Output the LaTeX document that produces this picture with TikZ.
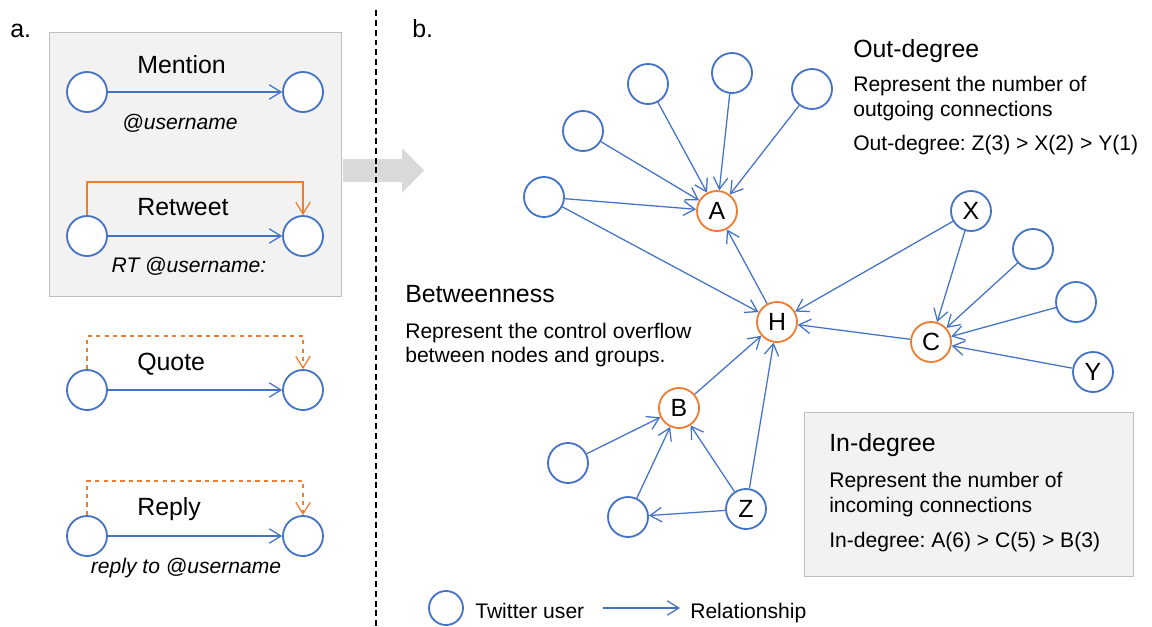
\documentclass[tikz,border=0pt]{standalone}
\usepackage{fontspec}
\setmainfont{Liberation Sans}
\usetikzlibrary{arrows.meta}
\definecolor{userblue}{HTML}{4472C4}
\definecolor{keyorange}{HTML}{ED7D31}
\definecolor{panelgray}{HTML}{F2F2F2}
\definecolor{framegray}{HTML}{BFBFBF}
\definecolor{flowgray}{HTML}{D9D9D9}
\frenchspacing

\tikzset{
    user/.style={circle, draw=userblue, line width=1.3pt, fill=white,
        minimum size=1cm, inner sep=0pt, font=\fontsize{17.7}{20}\selectfont},
    keyuser/.style={user, draw=keyorange},
    rel/.style={draw=userblue, line width=0.9pt,
        -{Straight Barb[length=2.9mm,width=3.6mm]}},
    share/.style={draw=keyorange, line width=0.9pt,
        -{Straight Barb[length=2.9mm,width=3.6mm]}},
    title/.style={anchor=base west, inner sep=0pt, font=\fontsize{17.7}{21}\selectfont},
    body/.style={anchor=base west, inner sep=0pt, font=\fontsize{15}{17.7}\selectfont},
    panel/.style={draw=framegray, fill=panelgray, line width=0.7pt}
}

\begin{document}
\begin{tikzpicture}[x=0.025cm, y=-0.025cm]
    \useasboundingbox (0,0) rectangle (1152,626);

    % Panel a: gray box
    \draw[panel] (49,32) rectangle (341,296);
    \node[title] (labela) at (10,37) {a.};
    \node[title] (labelb) at (412,37) {b.};

    % Mention
    \node[user] (m1) at (87,92) {};
    \node[user] (m2) at (303,92) {};
    \draw[rel] (m1) -- (m2);
    \node[title] (mtext) at (137,73) {Mention};
    \node[body, anchor=base] (mtag) at (180,129) {\itshape @username};

    % Retweet
    \node[user] (rt1) at (87,236) {};
    \node[user] (rt2) at (303,236) {};
    \draw[rel] (rt1) -- (rt2);
    \draw[share] (rt1.north) -- ++(0,-33) -| (rt2.north);
    \node[title] (rttext) at (137,215) {Retweet};
    \node[body, anchor=base] (rttag) at (189,272) {\itshape RT @username:};

    % Quote
    \node[user] (q1) at (87,390) {};
    \node[user] (q2) at (303,390) {};
    \draw[rel] (q1) -- (q2);
    \draw[share, dashed] (q1.north) -- ++(0,-33) -| (q2.north);
    \node[title] (qtext) at (137,370) {Quote};

    % Reply
    \node[user] (r1) at (87,536) {};
    \node[user] (r2) at (303,536) {};
    \draw[rel] (r1) -- (r2);
    \draw[share, dashed] (r1.north) -- ++(0,-34) -| (r2.north);
    \node[title] (rtext) at (137,515) {Reply};
    \node[body, anchor=base] (rtag) at (186,573) {\itshape reply to @username};

    % Gray arrow and divider
    \fill[flowgray] (343,159) -- (402,159) -- (402,148) -- (424,170.5)
        -- (402,193) -- (402,182) -- (343,182) -- cycle;
    \draw[line width=1pt, dash pattern=on 4.2pt off 2.8pt] (376,10) -- (376,626);

    % Panel b: nodes
    \node[keyuser] (A) at (717,211) {A};
    \node[keyuser] (H) at (777,322) {H};
    \node[keyuser] (B) at (679,408) {B};
    \node[keyuser] (C) at (931,342) {C};
    \node[user] (X) at (971,211) {X};
    \node[user] (Y) at (1093,372) {Y};
    \node[user] (Z) at (746,509) {Z};
    \node[user] (a1) at (544,197) {};
    \node[user] (a2) at (583,131) {};
    \node[user] (a3) at (648,84) {};
    \node[user] (a4) at (732,73) {};
    \node[user] (a5) at (812,89) {};
    \node[user] (c1) at (1033,249) {};
    \node[user] (c2) at (1076,302) {};
    \node[user] (b1) at (568,463) {};
    \node[user] (b2) at (628,517) {};

    % Panel b: relationships
    \foreach \s in {a1,a2,a3,a4,a5} {
        \draw[rel] (\s) -- (A);
    }
    \draw[rel] (a1) -- (H);
    \draw[rel] (H) -- (A);
    \draw[rel] (X) -- (H);
    \draw[rel] (X) -- (C);
    \draw[rel] (C) -- (H);
    \foreach \s in {c1,c2,Y} {
        \draw[rel] (\s) -- (C);
    }
    \draw[rel] (B) -- (H);
    \draw[rel] (Z) -- (H);
    \draw[rel] (b1) -- (B);
    \draw[rel] (b2) -- (B);
    \draw[rel] (Z) -- (B);
    \draw[rel] (Z) -- (b2);

    % Out-degree
    \node[title] (outtitle) at (853,57) {Out-degree};
    \node[body] (outline1) at (853,91) {Represent the number of};
    \node[body] (outline2) at (853,116) {outgoing connections};
    \node[body] (outline3) at (853,150) {Out-degree: Z(3) > X(2) > Y(1)};

    % Betweenness
    \node[title] (bettitle) at (405,302) {Betweenness};
    \node[body] (betline1) at (405,338) {Represent the control overflow};
    \node[body] (betline2) at (405,362) {between nodes and groups.};

    % In-degree
    \draw[panel] (804,412) rectangle (1133,576);
    \node[title] (intitle) at (829,451) {In-degree};
    \node[body] (inline1) at (829,487) {Represent the number of};
    \node[body] (inline2) at (829,512) {incoming connections};
    \node[body] (inline3) at (829,547) {In-degree: A(6) > C(5) > B(3)};

    % Legend
    \node[user, minimum size=0.85cm] (leguser) at (446,608) {};
    \node[body] (legusertext) at (475,618) {Twitter user};
    \coordinate (relstart) at (603,608);
    \coordinate (relend) at (680,608);
    \draw[rel] (relstart) -- (relend);
    \node[body] (legreltext) at (690,618) {Relationship};
\end{tikzpicture}
\end{document}
